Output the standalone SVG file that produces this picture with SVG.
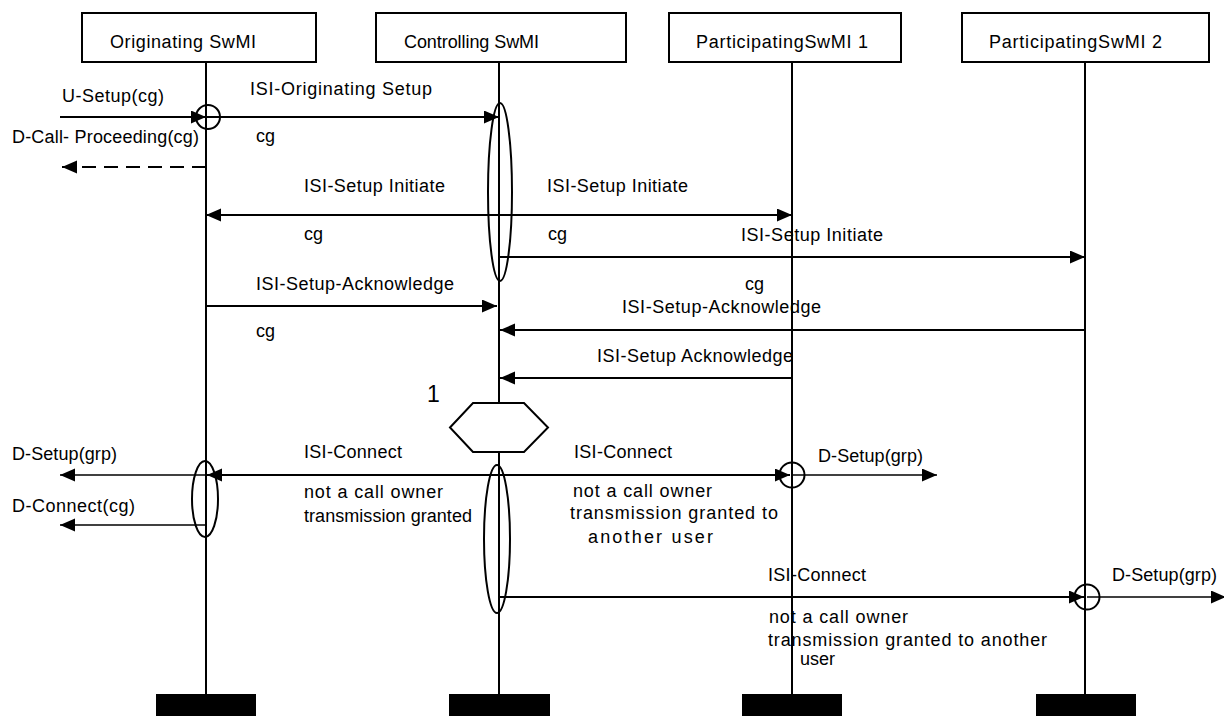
<svg xmlns="http://www.w3.org/2000/svg" width="1224" height="716" viewBox="0 0 1224 716">
<defs>
<style>
text{font-family:"Liberation Sans",Arial,sans-serif;font-size:18px;fill:#000}
.box{fill:#fff;stroke:#000;stroke-width:2}
.life{stroke:#000;stroke-width:2;fill:none}
.bar{fill:#000}
.msg{stroke:#000;stroke-width:2;fill:none}
.thin{stroke:#000;stroke-width:1.4;fill:none}
.dash{stroke-dasharray:14 8}
.oval{fill:none;stroke:#000;stroke-width:2}
.a{marker-end:url(#ah)}
.b{marker-start:url(#ah);marker-end:url(#ah)}
</style>
<marker id="ah" markerUnits="userSpaceOnUse" markerWidth="16" markerHeight="14" refX="15" refY="6.5" orient="auto-start-reverse">
<path d="M0,0 L15,6.5 L0,13 z" fill="#000"/>
</marker>
</defs>
<rect width="1224" height="716" fill="#fff"/>

<g id="node-originating">
<rect class="box" x="82" y="13" width="234" height="49"/>
<text x="110" y="48" textLength="146" lengthAdjust="spacing">Originating SwMI</text>
<line class="life" x1="206" y1="62" x2="206" y2="694"/>
<rect class="bar" x="156" y="694" width="100" height="22"/>
</g>
<g id="node-controlling">
<rect class="box" x="376" y="13" width="250" height="49"/>
<text x="404" y="48" textLength="135" lengthAdjust="spacing">Controlling SwMI</text>
<line class="life" x1="499" y1="62" x2="499" y2="403"/>
<line class="life" x1="499" y1="452" x2="499" y2="694"/>
<rect class="bar" x="449" y="694" width="101" height="22"/>
</g>
<g id="node-participating1">
<rect class="box" x="669" y="13" width="232" height="49"/>
<text x="696" y="48" textLength="172" lengthAdjust="spacing">ParticipatingSwMI 1</text>
<line class="life" x1="792" y1="62" x2="792" y2="694"/>
<rect class="bar" x="742" y="694" width="100" height="22"/>
</g>
<g id="node-participating2">
<rect class="box" x="962" y="13" width="247" height="49"/>
<text x="989" y="48" textLength="173" lengthAdjust="spacing">ParticipatingSwMI 2</text>
<line class="life" x1="1085" y1="62" x2="1085" y2="694"/>
<rect class="bar" x="1036" y="694" width="100" height="22"/>
</g>

<g id="node-condition-1">
<polygon points="450,427.5 473,403 524,403 548,427.5 524,452 473,452" fill="#fff" stroke="#000" stroke-width="2"/>
<text x="427" y="402" style="font-size:23px">1</text>
</g>

<g id="activations">
<circle class="oval" cx="208" cy="117" r="12"/>
<ellipse class="oval" cx="500" cy="192" rx="12" ry="89"/>
<ellipse class="oval" cx="205" cy="499" rx="13" ry="38"/>
<ellipse class="oval" cx="497" cy="539" rx="13" ry="74"/>
<circle class="oval" cx="792" cy="475" r="12.5"/>
<circle class="oval" cx="1087" cy="597" r="12.5"/>
</g>

<g id="connectors">
<line class="msg a" x1="60" y1="117" x2="206" y2="117"/>
<line class="msg a" x1="206" y1="117" x2="499" y2="117"/>
<line class="msg dash a" x1="206" y1="167" x2="62" y2="167"/>
<line class="msg b" x1="206" y1="215" x2="792" y2="215"/>
<line class="msg a" x1="499" y1="257" x2="1085" y2="257"/>
<line class="msg a" x1="206" y1="306" x2="497" y2="306"/>
<line class="msg a" x1="1085" y1="330" x2="500" y2="330"/>
<line class="msg a" x1="792" y1="378" x2="500" y2="378"/>
<line class="msg b" x1="207" y1="475" x2="790" y2="475"/>
<line class="thin a" x1="206" y1="475" x2="60" y2="475"/>
<line class="thin a" x1="206" y1="525" x2="60" y2="525"/>
<line class="thin a" x1="792" y1="475" x2="937" y2="475"/>
<line class="msg a" x1="499" y1="597" x2="1084" y2="597"/>
<line class="thin a" x1="1087" y1="597" x2="1226" y2="597"/>
</g>

<g id="labels">
<text x="62" y="102" textLength="102" lengthAdjust="spacing">U-Setup(cg)</text>
<text x="250" y="95" textLength="182" lengthAdjust="spacing">ISI-Originating Setup</text>
<text x="256" y="142">cg</text>
<text x="12" y="143" textLength="187" lengthAdjust="spacing">D-Call- Proceeding(cg)</text>
<text x="304" y="192" textLength="141" lengthAdjust="spacing">ISI-Setup Initiate</text>
<text x="547" y="192" textLength="141" lengthAdjust="spacing">ISI-Setup Initiate</text>
<text x="304" y="240">cg</text>
<text x="548" y="240">cg</text>
<text x="741" y="241" textLength="142" lengthAdjust="spacing">ISI-Setup Initiate</text>
<text x="745" y="290">cg</text>
<text x="256" y="290" textLength="198" lengthAdjust="spacing">ISI-Setup-Acknowledge</text>
<text x="256" y="337">cg</text>
<text x="622" y="313" textLength="199" lengthAdjust="spacing">ISI-Setup-Acknowledge</text>
<text x="597" y="362" textLength="196" lengthAdjust="spacing">ISI-Setup Acknowledge</text>
<text x="12" y="460" textLength="105" lengthAdjust="spacing">D-Setup(grp)</text>
<text x="304" y="458" textLength="98" lengthAdjust="spacing">ISI-Connect</text>
<text x="574" y="458" textLength="98" lengthAdjust="spacing">ISI-Connect</text>
<text x="818" y="462" textLength="105" lengthAdjust="spacing">D-Setup(grp)</text>
<text x="304" y="498" textLength="139" lengthAdjust="spacing">not a call owner</text>
<text x="304" y="522" textLength="168" lengthAdjust="spacing">transmission granted</text>
<text x="12" y="512" textLength="123" lengthAdjust="spacing">D-Connect(cg)</text>
<text x="573" y="497" textLength="139" lengthAdjust="spacing">not a call owner</text>
<text x="570" y="519" textLength="208" lengthAdjust="spacing">transmission granted to</text>
<text x="588" y="543" textLength="125" lengthAdjust="spacing">another user</text>
<text x="768" y="581" textLength="98" lengthAdjust="spacing">ISI-Connect</text>
<text x="1112" y="581" textLength="105" lengthAdjust="spacing">D-Setup(grp)</text>
<text x="769" y="623" textLength="139" lengthAdjust="spacing">not a call owner</text>
<text x="768" y="646" textLength="279" lengthAdjust="spacing">transmission granted to another</text>
<text x="800" y="665">user</text>
</g>
</svg>
